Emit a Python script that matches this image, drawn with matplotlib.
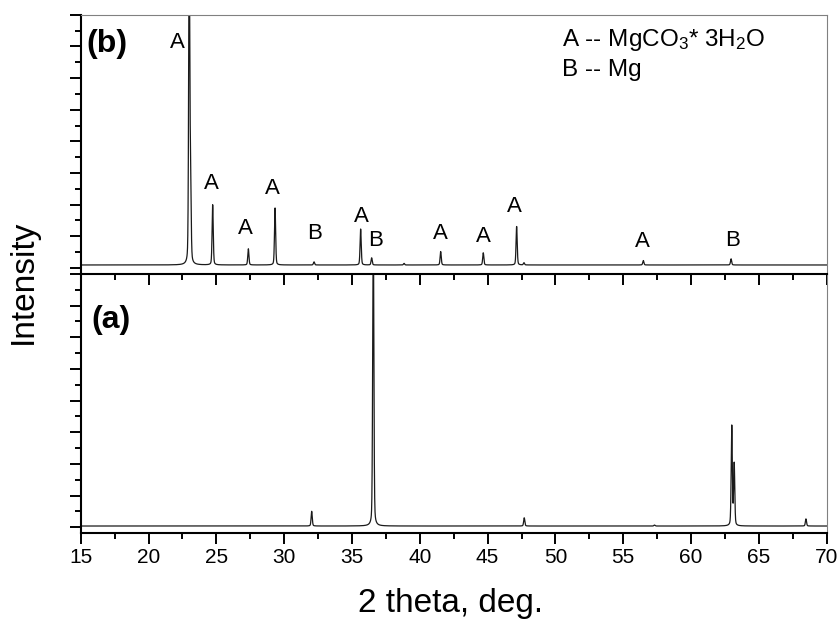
import numpy as np
import matplotlib
matplotlib.use("Agg")
import matplotlib.pyplot as plt
from matplotlib.ticker import MultipleLocator

plt.rcParams['font.family'] = ['Liberation Sans', 'DejaVu Sans']
plt.rcParams['mathtext.fontset'] = 'custom'
plt.rcParams['mathtext.rm'] = 'Liberation Sans'
plt.rcParams['mathtext.it'] = 'Liberation Sans:italic'

# ---- data ----
# panel (b): MgCO3*3H2O + Mg
b_pos = [23.00, 23.10, 24.73, 27.36, 29.33, 32.20, 35.64, 36.45, 38.84,
         41.54, 44.68, 47.14, 47.68, 56.48, 62.95]
b_height = [20.0, 4.9, 3.80, 1.02, 3.60, 0.20, 2.27, 0.45, 0.10,
            0.85, 0.77, 2.43, 0.14, 0.28, 0.39]
b_baseline = 0.19
# panel (a): Mg
a_pos = [32.03, 36.57, 47.70, 57.30, 63.00, 63.18, 68.47]
a_height = [0.93, 20.0, 0.52, 0.06, 6.30, 3.90, 0.45]
a_baseline = 0.08

# peak labels in panel (b)
lab_text = ['A', 'A', 'A', 'A', 'B', 'A', 'B', 'A', 'A', 'A', 'A', 'B']
lab_x = [22.14, 24.66, 27.17, 29.14, 32.27, 35.66, 36.73, 41.53, 44.66,
         46.95, 56.42, 63.09]
lab_y = [14.22, 5.31, 2.47, 4.99, 2.15, 3.26, 1.74, 2.17, 1.99, 3.89,
         1.68, 1.74]

x_ticks = [15, 20, 25, 30, 35, 40, 45, 50, 55, 60, 65, 70]


def profile(x, pos, height, base, w=0.05, eta=0.3):
    y = np.full_like(x, base)
    for p, h in zip(pos, height):
        d = (x - p) / w
        y += h * ((1 - eta) * np.exp(-np.log(2) * d ** 2) + eta / (1 + d ** 2))
    return y


x = np.arange(15.0, 70.0001, 0.005)
yb = profile(x, b_pos, b_height, b_baseline)
ya = profile(x, a_pos, a_height, a_baseline)

W_PX, H_PX = 839, 621
fig = plt.figure(figsize=(W_PX / 100, H_PX / 100), dpi=100)
left = 80.7 / W_PX
width = 746.0 / W_PX
ax_b = fig.add_axes([left, (H_PX - 274) / H_PX, width, 259.3 / H_PX])
ax_a = fig.add_axes([left, (H_PX - 533.3) / H_PX, width, 259.3 / H_PX])

line_kw = dict(color='#1a1a1a', lw=0.9)
ax_b.plot(x, yb, **line_kw)
ax_a.plot(x, ya, **line_kw)

for ax in (ax_a, ax_b):
    ax.set_xlim(15, 70)
    ax.set_ylim(-0.38, 16)
    ax.yaxis.set_major_locator(MultipleLocator(2))
    ax.yaxis.set_minor_locator(MultipleLocator(1))
    ax.tick_params(axis='y', which='both', direction='out', left=True,
                   right=False, labelleft=False, width=1.4, color='black')
    ax.tick_params(axis='y', which='major', length=7.7)
    ax.tick_params(axis='y', which='minor', length=4.3)
    ax.spines['left'].set_linewidth(1.5)
    ax.spines['left'].set_color('black')
    ax.spines['right'].set_linewidth(0.8)
    ax.spines['right'].set_color('#808080')

# top panel
ax_b.spines['top'].set_linewidth(0.8)
ax_b.spines['top'].set_color('#808080')
ax_b.spines['bottom'].set_visible(False)
ax_b.tick_params(axis='x', which='both', bottom=False, top=False,
                 labelbottom=False)

# bottom panel
ax_a.set_xticks(x_ticks)
ax_a.xaxis.set_minor_locator(MultipleLocator(2.5))
ax_a.spines['top'].set_linewidth(1.5)
ax_a.spines['top'].set_color('black')
ax_a.spines['bottom'].set_linewidth(1.5)
ax_a.tick_params(axis='x', which='both', bottom=True, top=True,
                 direction='out', width=1.4, labelsize=15, pad=3.0)
ax_a.tick_params(axis='x', which='major', length=7.7)
ax_a.tick_params(axis='x', which='minor', length=4.3)
# ticks on the separator point down into the lower panel
for t in ax_a.xaxis.get_major_ticks() + ax_a.xaxis.get_minor_ticks():
    t.tick2line.set_marker(3)  # TICKDOWN

# labels
for t, lx, ly in zip(lab_text, lab_x, lab_y):
    ax_b.text(lx, ly, t, ha='center', va='center', fontsize=16)

ax_b.text(86.7 / W_PX, (H_PX - 44) / H_PX, '(b)', transform=fig.transFigure,
          ha='left', va='center', fontsize=23, fontweight='bold')
ax_a.text(91.0 / W_PX, (H_PX - 320) / H_PX, '(a)', transform=fig.transFigure,
          ha='left', va='center', fontsize=23, fontweight='bold')

fig.text(561.7 / W_PX, (H_PX - 46) / H_PX, 'A -- MgCO$_3$* 3H$_2$O',
         ha='left', va='baseline', fontsize=17.5)
fig.text(561.7 / W_PX, (H_PX - 75.7) / H_PX, 'B -- Mg',
         ha='left', va='baseline', fontsize=17.5)

fig.text(451 / W_PX, (H_PX - 612) / H_PX, '2 theta, deg.', ha='center',
         va='baseline', fontsize=24)
fig.text(23 / W_PX, (H_PX - 282) / H_PX, 'Intensity', rotation=90,
         ha='center', va='center', fontsize=24)

fig.savefig('out.png', dpi=100)
